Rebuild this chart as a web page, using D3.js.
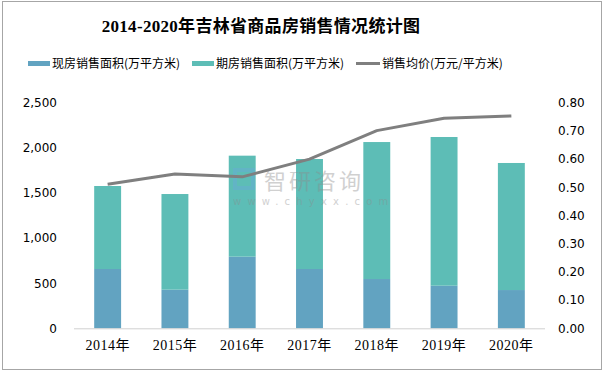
<!DOCTYPE html>
<html lang="zh">
<head>
<meta charset="UTF-8">
<title>2014-2020年吉林省商品房销售情况统计图</title>
<script src="https://d3js.org/d3.v7.min.js"></script>
<style>
  body { margin: 0; background: #fff; }
</style>
</head>
<body>
<svg id="svg" width="607" height="373"></svg>
<script>
    const years = ["2014年", "2015年", "2016年", "2017年", "2018年", "2019年", "2020年"];
    const spotArea = [657, 428, 794, 657, 546, 472, 424];
    const futureArea = [920, 1060, 1119, 1219, 1518, 1648, 1408];
    const avgPrice = [0.511, 0.547, 0.537, 0.600, 0.701, 0.745, 0.753];
    const leftTicks = [0, 500, 1000, 1500, 2000, 2500];
    const rightTicks = [0, 0.1, 0.2, 0.3, 0.4, 0.5, 0.6, 0.7, 0.8];
    const legendNames = ["现房销售面积(万平方米)", "期房销售面积(万平方米)", "销售均价(万元/平方米)"];

    const colSpot = "#62a3c1";
    const colFuture = "#5dbdb6";
    const colLine = "#7f7f7f";

    const svg = d3.select("#svg");

    // outer frame
    svg.append("rect")
        .attr("x", 2.5).attr("y", 1.5)
        .attr("width", 599).attr("height", 368)
        .attr("fill", "#fff")
        .attr("stroke", "#a6a6a6");

    svg.append("text")
        .attr("x", 261).attr("y", 32)
        .attr("text-anchor", "middle")
        .attr("font-family", "'Liberation Serif', 'Noto Sans CJK SC', serif")
        .attr("font-weight", "bold")
        .attr("font-size", 17)
        .attr("letter-spacing", 0.3)
        .attr("fill", "#000")
        .text("2014-2020年吉林省商品房销售情况统计图");

    const plotTop = 102.7, plotBottom = 328.3, plotLeft = 74, plotRight = 545;

    const x = d3.scaleBand().domain(years).range([plotLeft, plotRight]).paddingInner(0.6).paddingOuter(0.3);
    const yL = d3.scaleLinear().domain([0, 2500]).range([plotBottom, plotTop]);
    const yR = d3.scaleLinear().domain([0, 0.8]).range([plotBottom, plotTop]);

    // stacked bars
    const stack = years.map((yr, i) => ({ yr, a: spotArea[i], b: futureArea[i] }));
    const bars = svg.append("g");
    bars.selectAll("rect.spot").data(stack).join("rect")
        .attr("class", "spot")
        .attr("x", d => x(d.yr)).attr("width", x.bandwidth())
        .attr("y", d => yL(d.a)).attr("height", d => yL(0) - yL(d.a))
        .attr("fill", colSpot);
    bars.selectAll("rect.future").data(stack).join("rect")
        .attr("class", "future")
        .attr("x", d => x(d.yr)).attr("width", x.bandwidth())
        .attr("y", d => yL(d.a + d.b)).attr("height", d => yL(d.a) - yL(d.a + d.b))
        .attr("fill", colFuture);

    // watermark (sits over the bars)
    const wm = svg.append("g").attr("opacity", 0.4);
    wm.append("rect").attr("x", 235).attr("y", 170).attr("width", 18).attr("height", 18)
        .attr("fill", "none").attr("stroke", "#6aa9dc").attr("stroke-width", 4);
    wm.append("text").attr("x", 264).attr("y", 189)
        .attr("font-family", "'Noto Sans CJK SC', sans-serif").attr("font-size", 22)
        .attr("fill", "#8c8c8c").attr("letter-spacing", 3).text("智研咨询");
    wm.append("text").attr("x", 233).attr("y", 205)
        .attr("font-family", "'DejaVu Sans', sans-serif").attr("font-size", 10)
        .attr("fill", "#8c8c8c").attr("letter-spacing", 6.2).text("www.chyxx.com");

    // baseline
    svg.append("line")
        .attr("x1", plotLeft).attr("x2", plotRight)
        .attr("y1", plotBottom + 0.5).attr("y2", plotBottom + 0.5)
        .attr("stroke", "#d0d0d0");

    // price line
    const line = d3.line()
        .x((d, i) => x(years[i]) + x.bandwidth() / 2)
        .y(d => yR(d));
    svg.append("path")
        .datum(avgPrice)
        .attr("d", line)
        .attr("fill", "none")
        .attr("stroke", colLine)
        .attr("stroke-width", 3)
        .attr("stroke-linejoin", "round");

    // axes
    const axL = svg.append("g")
        .attr("transform", `translate(${plotLeft - 17},0)`)
        .call(d3.axisLeft(yL).tickValues(leftTicks).tickSize(0).tickFormat(d3.format(",")));
    const axR = svg.append("g")
        .attr("transform", `translate(${plotRight + 13},0)`)
        .call(d3.axisRight(yR).tickValues(rightTicks).tickSize(0).tickFormat(d3.format(".2f")));
    [axL, axR].forEach(ax => {
        ax.select(".domain").remove();
        ax.selectAll("text")
            .attr("font-family", "'DejaVu Sans', sans-serif")
            .attr("font-size", 12)
            .attr("fill", "#000")
            .attr("x", 0);
    });

    const axX = svg.append("g")
        .attr("transform", `translate(0,${plotBottom})`)
        .call(d3.axisBottom(x).tickSize(0));
    axX.select(".domain").remove();
    axX.selectAll("text")
        .attr("y", 12)
        .attr("font-family", "'Liberation Serif', 'Noto Sans CJK SC', serif")
        .attr("font-size", 14)
        .attr("letter-spacing", 0.5)
        .attr("fill", "#000");

    // legend
    const legend = svg.append("g");
    const lx = [28, 192, 356];
    legendNames.forEach((name, i) => {
        if (i < 2) {
            legend.append("rect")
                .attr("x", lx[i]).attr("y", 61)
                .attr("width", 22).attr("height", 5)
                .attr("fill", i === 0 ? colSpot : colFuture);
        } else {
            legend.append("line")
                .attr("x1", lx[i]).attr("x2", lx[i] + 24)
                .attr("y1", 63.5).attr("y2", 63.5)
                .attr("stroke", colLine).attr("stroke-width", 3);
        }
        legend.append("text")
            .attr("x", lx[i] + (i < 2 ? 24 : 26)).attr("y", 68)
            .attr("font-family", "'Noto Sans CJK SC', sans-serif")
            .attr("font-size", 12)
            .attr("fill", "#000")
            .text(name);
    });
</script>
</body>
</html>
